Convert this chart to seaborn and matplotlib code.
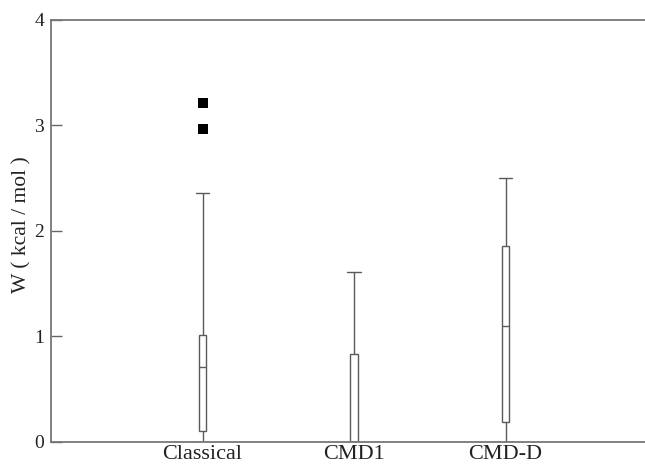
import matplotlib
matplotlib.use("Agg")
import matplotlib.pyplot as plt
import seaborn as sns
import pandas as pd

# Five-number summaries: min, Q1, median, Q3, max (whisker ends)
categories = ["Classical", "CMD1", "CMD-D"]
classical_summary = [0.0, 0.10, 0.71, 1.01, 2.36]
cmd1_summary = [0.0, 0.0, 0.0, 0.83, 1.61]
cmdd_summary = [0.0, 0.19, 1.10, 1.86, 2.50]
# Outliers
outlier_groups = ["Classical", "Classical"]
outlier_values = [3.21, 2.97]

yticks = [0, 1, 2, 3, 4]

sns.set_theme(style="white")
plt.rcParams["font.family"] = ["Liberation Serif", "DejaVu Serif"]

rows = []
for cat, vals in zip(categories, [classical_summary, cmd1_summary, cmdd_summary]):
    for v in vals:
        rows.append({"group": cat, "W": v})
df = pd.DataFrame(rows)
df_out = pd.DataFrame({"group": outlier_groups, "W": outlier_values})

fig = plt.figure(figsize=(6.45, 4.68), dpi=100)
ax = fig.add_axes([0.0791, 0.0556, 0.9395, 0.9017])

edge = "#5a5a5a"
sns.boxplot(data=df, x="group", y="W", order=categories, whis=(0, 100),
            width=0.05, color="white", linecolor=edge, linewidth=1.0,
            fliersize=0, ax=ax, capwidths=0.09,
            medianprops=dict(color=edge, linewidth=1.0))
sns.stripplot(data=df_out, x="group", y="W", order=categories, jitter=False,
              marker="s", color="black", size=6.5, linewidth=0, ax=ax)

ax.set_xlim(-1, 3)
ax.set_ylim(0, 4)
ax.set_yticks(yticks)
ax.set_yticklabels([str(t) for t in yticks])
ax.set_xlabel("")
ax.set_ylabel("W ( kcal / mol )", fontsize=15.5, color="#222222", labelpad=3)
ax.yaxis.set_label_coords(-0.032, 0.515)

for s in ax.spines.values():
    s.set_color("#777777")
    s.set_linewidth(1.3)
    s.set_visible(True)

ax.tick_params(axis="y", direction="in", length=8, width=1, color="#666666",
               labelsize=14, labelcolor="#222222", left=True, right=True, pad=5)
ax.tick_params(axis="x", length=0, labelsize=16, labelcolor="#222222", pad=2)

fig.savefig("out.png", dpi=100)
